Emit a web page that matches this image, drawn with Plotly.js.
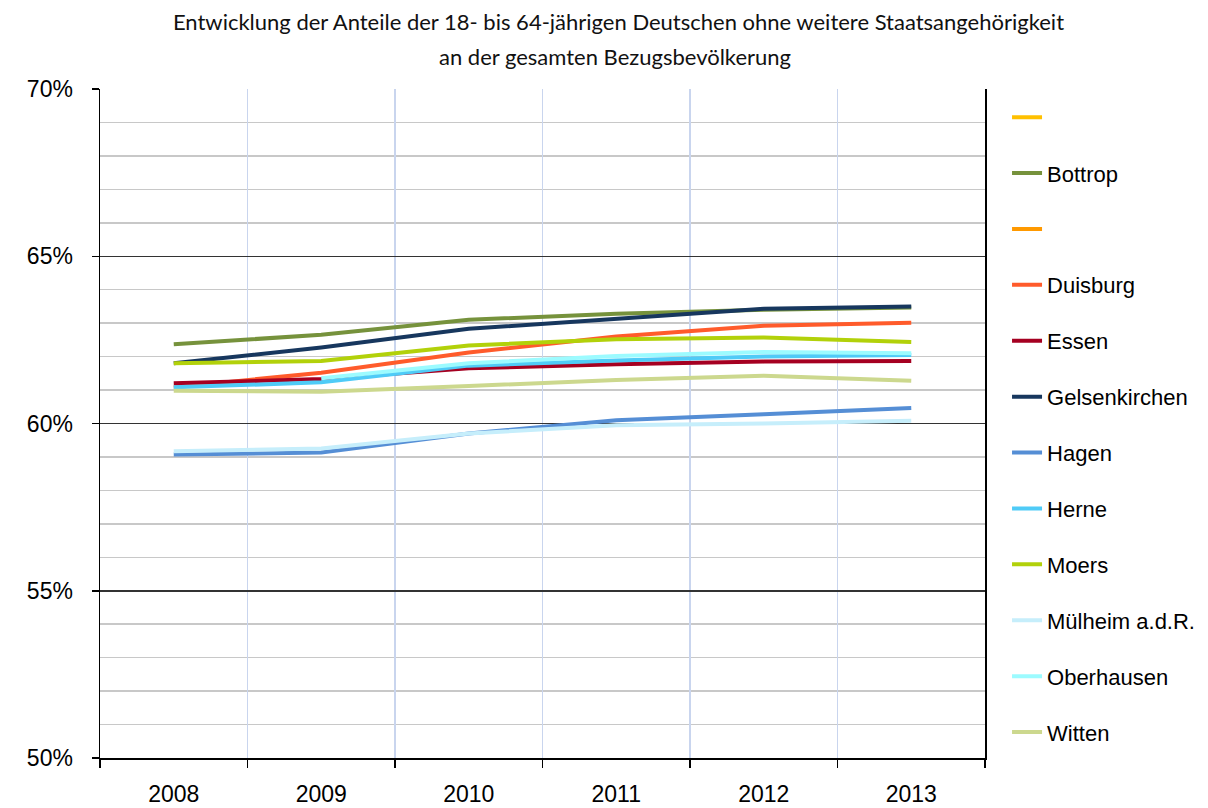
<!DOCTYPE html>
<html>
<head>
<meta charset="utf-8">
<script src="https://cdn.plot.ly/plotly-3.0.1.min.js"></script>
<style>html,body{margin:0;padding:0;background:#fff;}#chart{width:1208px;height:808px;}</style>
</head>
<body>
<div id="chart"></div>
<script>
var years = ['2008','2009','2010','2011','2012','2013'];
var seriesNames = [' ', 'Bottrop', ' ', 'Duisburg', 'Essen', 'Gelsenkirchen', 'Hagen', 'Herne', 'Moers', 'Mülheim a.d.R.', 'Oberhausen', 'Witten'];
var emptyA        = [null, null, null, null, null, null];
var bottrop       = [62.37, 62.65, 63.10, 63.28, 63.40, 63.47];
var emptyB        = [null, null, null, null, null, null];
var duisburg      = [61.08, 61.52, 62.12, 62.60, 62.92, 63.01];
var essen         = [61.20, 61.33, 61.65, 61.77, 61.85, 61.87];
var gelsenkirchen = [61.80, 62.27, 62.83, 63.13, 63.43, 63.50];
var hagen         = [59.07, 59.13, 59.70, 60.10, 60.28, 60.46];
var herne         = [61.08, 61.23, 61.73, 61.88, 62.00, 62.05];
var moers         = [61.80, 61.87, 62.33, 62.52, 62.57, 62.44];
var muelheim      = [59.17, 59.25, 59.70, 59.95, 60.00, 60.08];
var oberhausen    = [null, 61.35, 61.80, 62.02, 62.14, 62.10];
var witten        = [60.98, 60.95, 61.12, 61.30, 61.43, 61.28];
var seriesValues = [emptyA, bottrop, emptyB, duisburg, essen, gelsenkirchen, hagen, herne, moers, muelheim, oberhausen, witten];
var colors = ['#FFC000', '#76923C', '#FF9900', '#FF5B2B', '#A50021', '#17375E', '#558ED5', '#4FCBF7', '#B2D10A', '#C6EEFB', '#9CFBFF', '#CCD88E'];
var titleLine1 = 'Entwicklung der Anteile der 18- bis 64-jährigen Deutschen ohne weitere Staatsangehörigkeit';
var titleLine2 = 'an der gesamten Bezugsbevölkerung';

var traces = seriesValues.map(function(vals, i){
  return {
    type: 'scatter', mode: 'lines',
    x: years, y: vals, name: seriesNames[i],
    legendgroup: 'g' + i,
    line: {color: colors[i], width: 4},
    connectgaps: false,
    hoverinfo: 'skip'
  };
});

var titleFont = {family: 'Lato, Open Sans, sans-serif', size: 22, color: '#111'};

var layout = {
  width: 1208, height: 808,
  paper_bgcolor: '#fff', plot_bgcolor: '#fff',
  margin: {l: 100, r: 223, t: 89, b: 50, autoexpand: false},
  font: {family: 'Liberation Sans, Arial, sans-serif', color: '#000'},
  title: {text: titleLine1, font: titleFont,
          x: 0.512, xanchor: 'center', xref: 'container', y: 0.973, yanchor: 'middle', yref: 'container'},
  annotations: [{text: titleLine2, showarrow: false, xref: 'paper', yref: 'paper',
                 x: 0.582, xanchor: 'center', y: 1.049, yanchor: 'middle',
                 font: titleFont}],
  showlegend: true,
  legend: {x: 1.0249, xanchor: 'left', y: 0.989, yanchor: 'top',
           font: {family: 'Liberation Sans, Arial, sans-serif', size: 22, color: '#000'},
           traceorder: 'grouped', tracegroupgap: 24.3, bgcolor: 'rgba(0,0,0,0)', borderwidth: 0},
  xaxis: {type: 'category', categoryorder: 'array', categoryarray: years,
          range: [-0.5, 5.5], tickson: 'boundaries', ticks: 'outside', ticklen: 8,
          tickcolor: '#000', tickwidth: 1.5,
          showgrid: true, gridcolor: '#C9D5EE', gridwidth: 1.5,
          showline: true, linecolor: '#000', linewidth: 1.5,
          tickfont: {size: 23, family: 'Liberation Sans, Arial, sans-serif'}, ticklabelstandoff: 15,
          zeroline: false, fixedrange: true},
  yaxis: {range: [50, 70], dtick: 5, tick0: 50, ticksuffix: '%',
          ticks: 'outside', ticklen: 7, tickcolor: '#000', tickwidth: 1.5,
          showgrid: true, gridcolor: '#333', gridwidth: 1.5,
          minor: {dtick: 1, showgrid: true, gridcolor: '#C8C8C8', gridwidth: 1.5, ticks: ''},
          showline: true, linecolor: '#000', linewidth: 1.5, mirror: true,
          tickfont: {size: 23, family: 'Liberation Sans, Arial, sans-serif'}, ticklabelstandoff: 14,
          zeroline: false, fixedrange: true}
};

Plotly.newPlot('chart', traces, layout, {displayModeBar: false, staticPlot: true});
</script>
</body>
</html>
